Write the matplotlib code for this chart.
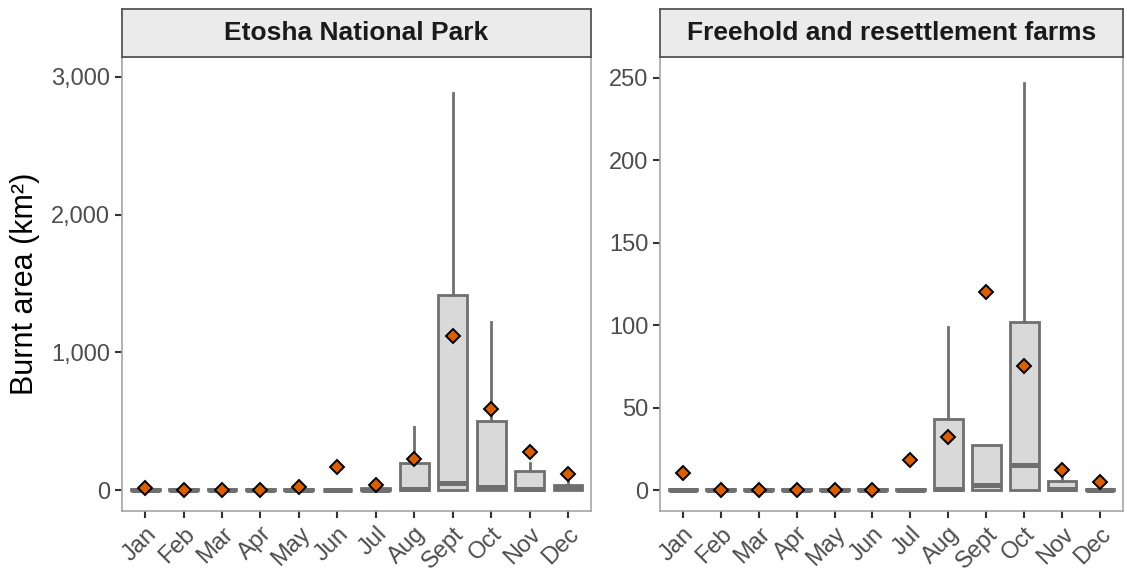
import matplotlib.pyplot as plt

plt.rcParams['font.family'] = ['Liberation Sans', 'DejaVu Sans']

mois = ["Jan", "Feb", "Mar", "Apr", "May", "Jun", "Jul", "Aug", "Sept", "Oct", "Nov", "Dec"]

# Etosha National Park (km²)
enp_bas = [0, 0, 0, 0, 0, 0, 0, 0, 0, 0, 0, 0]
enp_q1 = [0, 0, 0, 0, 0, 0, 0, 0, 0, 0, 0, 0]
enp_med = [0, 0, 0, 0, 0, 0, 2, 5, 50, 25, 5, 15]
enp_q3 = [12, 8, 8, 8, 12, 3, 18, 195, 1420, 505, 140, 38]
enp_haut = [20, 10, 10, 10, 20, 5, 30, 460, 2880, 1220, 200, 75]
enp_moy = [15, 2, 2, 2, 25, 165, 40, 225, 1120, 590, 280, 120]

# Freehold and resettlement farms (km²)
ferme_bas = [0, 0, 0, 0, 0, 0, 0, 0, 0, 0, 0, 0]
ferme_q1 = [0, 0, 0, 0, 0, 0, 0, 0, 0, 0, 0, 0]
ferme_med = [0, 0, 0, 0, 0, 0, 0, 0.5, 3, 15, 1, 0]
ferme_q3 = [0.5, 0.5, 0.5, 0.5, 0.5, 0.5, 0.5, 43, 27.5, 102, 5.5, 1]
ferme_haut = [1, 1, 1, 1, 1, 1, 1, 99, 27.5, 247, 8, 1]
ferme_moy = [10.5, 0.2, 0.2, 0.2, 0.2, 0.2, 18, 32.5, 120, 75, 12, 5]

gris = "#6f6f6f"
fond = "#d9d9d9"
orange = "#d95f02"


def stats(bas, q1, med, q3, haut):
    res = []
    for i in range(len(bas)):
        res.append({"whislo": bas[i], "q1": q1[i], "med": med[i], "q3": q3[i], "whishi": haut[i], "fliers": []})
    return res


def panneau(ax, titre, boites, moyennes, ylim, yticks, ylabels):
    pos = list(range(1, len(mois) + 1))
    ax.bxp(boites, positions=pos, widths=0.75, patch_artist=True, showcaps=False,
           boxprops=dict(facecolor=fond, edgecolor=gris, linewidth=2),
           medianprops=dict(color=gris, linewidth=3.6, solid_capstyle="butt"),
           whiskerprops=dict(color=gris, linewidth=2))
    ax.plot(pos, moyennes, linestyle="none", marker="D", markersize=7,
            markerfacecolor=orange, markeredgecolor="black", markeredgewidth=1.4, zorder=5)
    ax.set_xlim(0.4, 12.6)
    ax.set_ylim(ylim)
    ax.set_yticks(yticks)
    ax.set_yticklabels(ylabels)
    ax.set_xticks(pos)
    ax.set_xticklabels(mois, rotation=45, ha="right", rotation_mode="anchor")
    ax.tick_params(axis="both", colors="#333333", labelcolor="#4d4d4d", labelsize=17,
                   length=5, width=1.5)
    for s in ax.spines.values():
        s.set_color("#a6a6a6")
        s.set_linewidth(1.2)

    # bandeau du titre façon ggplot (facet strip)
    p = ax.get_position()
    bande = fig.add_axes([p.x0, p.y1, p.width, 48 / 573])
    bande.set_facecolor("#ebebeb")
    bande.set_xticks([])
    bande.set_yticks([])
    for s in bande.spines.values():
        s.set_color("#555555")
        s.set_linewidth(1.3)
    bande.text(0.5, 0.5, titre, ha="center", va="center", fontsize=19, fontweight="bold", color="#1a1a1a")


fig = plt.figure(figsize=(11.27, 5.73), dpi=100)
ax1 = fig.add_axes([0.1083, 0.108, 0.4162, 0.7927])
ax2 = fig.add_axes([0.5856, 0.108, 0.4108, 0.7927])

panneau(ax1, "Etosha National Park", stats(enp_bas, enp_q1, enp_med, enp_q3, enp_haut), enp_moy,
        (-152, 3145), [0, 1000, 2000, 3000], ["0", "1,000", "2,000", "3,000"])
panneau(ax2, "Freehold and resettlement farms", stats(ferme_bas, ferme_q1, ferme_med, ferme_q3, ferme_haut),
        ferme_moy, (-12.7, 262.7), [0, 50, 100, 150, 200, 250], ["0", "50", "100", "150", "200", "250"])

ax1.set_ylabel("Burnt area (km²)", fontsize=22, color="black", labelpad=8)

fig.savefig("out.png", dpi=100)
